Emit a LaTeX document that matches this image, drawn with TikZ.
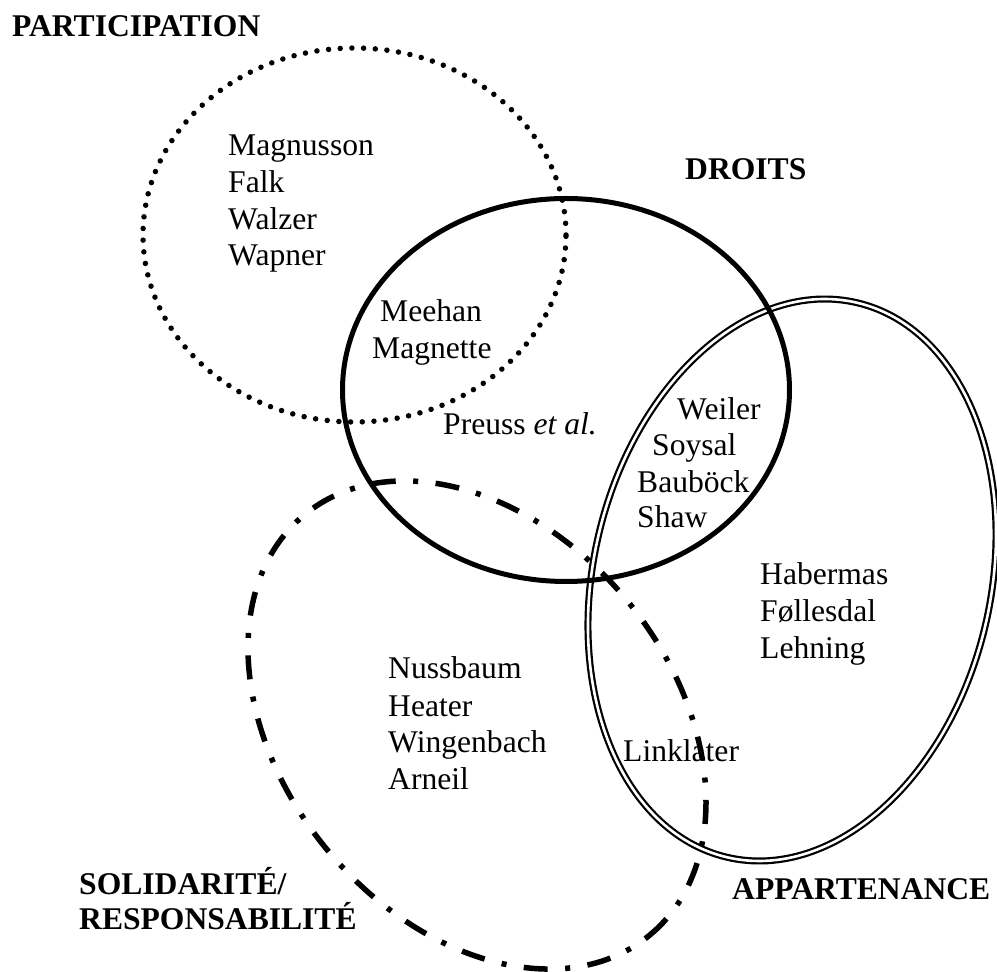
\documentclass[tikz,border=0pt]{standalone}
\usepackage{fontspec}
\setmainfont{Liberation Serif}
\begin{document}
\begin{tikzpicture}[x=1pt,y=1pt,
  nm/.style={inner sep=0pt, anchor=base west, font=\fontsize{31.6}{36.6}\selectfont},
  hd/.style={inner sep=0pt, anchor=base west, font=\fontsize{31.6}{36.6}\selectfont\bfseries},
  dotline/.style={line width=5.5pt, line cap=round, dash pattern=on 0pt off 11.7pt},
  solidline/.style={line width=5pt},
  dashdotline/.style={line width=5.5pt, dash pattern=on 24pt off 17.5pt on 5pt off 17.5pt},
  doubleline/.style={double, line width=2.2pt, double distance=2.6pt}]
\useasboundingbox (0,0) rectangle (997,972);
% ellipses
\draw[doubleline, rotate around={76.8:(792,392)}] (792,392) ellipse [x radius=284.8, y radius=198.6];
\draw[dotline] (354.5,737) ellipse [x radius=211.5, y radius=187];
\draw[solidline] (566,582) ellipse [x radius=223.5, y radius=191.5];
\draw[dashdotline, rotate around={-50.7:(477,247)}] (477,247) ellipse [x radius=272, y radius=195];
% headings
\node[hd] (participation) at (12,935) {PARTICIPATION};
\node[hd] (droits) at (685,792) {DROITS};
\node[hd] (solidarite) at (79,77) {SOLIDARITÉ/};
\node[hd] (responsabilite) at (79,42) {RESPONSABILITÉ};
\node[hd] (appartenance) at (732,72) {APPARTENANCE};
% names
\node[nm] (magnusson) at (228,816) {Magnusson};
\node[nm] (falk) at (228,779.3) {Falk};
\node[nm] (walzer) at (228,742.7) {Walzer};
\node[nm] (wapner) at (228,706) {Wapner};
\node[nm] (meehan) at (380,650) {Meehan};
\node[nm] (magnette) at (372,613) {Magnette};
\node[nm] (preuss) at (443,537) {Preuss \textit{et al.}};
\node[nm] (weiler) at (677,552) {Weiler};
\node[nm] (soysal) at (652,516) {Soysal};
\node[nm] (baubock) at (637,479.3) {Bauböck};
\node[nm] (shaw) at (637,444.7) {Shaw};
\node[nm] (habermas) at (760,387) {Habermas};
\node[nm] (follesdal) at (760,350) {Føllesdal};
\node[nm] (lehning) at (760,313) {Lehning};
\node[nm] (linklater) at (623,210) {Linklater};
\node[nm] (nussbaum) at (388,293) {Nussbaum};
\node[nm] (heater) at (388,255) {Heater};
\node[nm] (wingenbach) at (388,219) {Wingenbach};
\node[nm] (arneil) at (388,182) {Arneil};
\end{tikzpicture}
\end{document}
